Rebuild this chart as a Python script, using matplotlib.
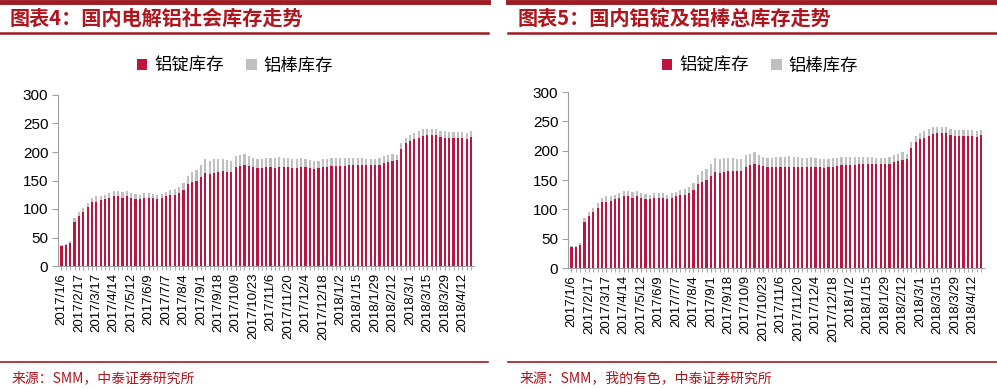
import numpy as np
import matplotlib.pyplot as plt
from matplotlib.lines import Line2D

plt.rcParams['font.family'] = ['Liberation Sans', 'Noto Sans CJK SC', 'DejaVu Sans']

# tick labels, shown on every 4th bar
tick_labels = [
    "2017/1/6", "2017/2/17", "2017/3/17", "2017/4/14", "2017/5/12", "2017/6/9",
    "2017/7/7", "2017/8/4", "2017/9/1", "2017/9/18", "2017/10/9", "2017/10/23",
    "2017/11/6", "2017/11/20", "2017/12/4", "2017/12/18", "2018/1/2", "2018/1/15",
    "2018/1/29", "2018/2/12", "2018/3/1", "2018/3/15", "2018/3/29", "2018/4/12",
]

# 铝锭库存 (万吨)
ingot = [
    35, 36, 40, 78, 88, 95, 103, 112, 113, 115, 117, 120, 122, 122, 120, 122,
    119, 117, 117, 120, 120, 120, 118, 120, 123, 124, 125, 128, 133, 143, 147, 150,
    157, 163, 162, 164, 165, 166, 165, 165, 173, 175, 177, 175, 174, 172, 172, 173,
    173, 172, 173, 173, 173, 172, 172, 173, 173, 172, 171, 172, 173, 174, 175, 176,
    176, 176, 177, 177, 178, 177, 177, 177, 177, 178, 180, 182, 184, 186, 205, 215,
    220, 222, 225, 228, 230, 230, 230, 227, 225, 225, 225, 225, 225, 223, 226,
]
# 铝锭 + 铝棒 total height
total = [
    37, 38, 43, 85, 95, 102, 110, 120, 122, 123, 125, 128, 132, 132, 130, 132,
    128, 126, 125, 128, 128, 127, 125, 127, 130, 133, 135, 138, 145, 158, 165, 168,
    178, 188, 185, 187, 188, 188, 186, 185, 193, 195, 197, 193, 190, 188, 188, 190,
    190, 190, 191, 190, 190, 188, 188, 189, 188, 186, 185, 185, 187, 188, 190, 190,
    189, 189, 190, 190, 190, 190, 188, 188, 188, 190, 193, 195, 197, 194, 215, 225,
    230, 233, 237, 240, 241, 241, 241, 237, 236, 235, 235, 235, 235, 233, 236,
]
rod = [t - i for t, i in zip(total, ingot)]

# second chart (铝锭及铝棒总库存) - visually the same series
ingot2 = list(ingot)
rod2 = list(rod)

RED = '#BE1540'
GRAY = '#C0C0C0'
LINE = '#9E1B22'
CJK = ['Noto Sans CJK SC', 'DejaVu Sans']

W, H = 997, 389
fig = plt.figure(figsize=(W / 100, H / 100), dpi=100)


def fx(px):
    return px / W


def fy(py):
    return 1 - py / H


def panel(x0, x1, ax_l, ax_r, ax_top, ax_bot, title, source, leg_x, a, b):
    # header lines
    fig.add_artist(Line2D([fx(x0), fx(x1)], [fy(2), fy(2)], color=LINE, lw=3.5))
    fig.add_artist(Line2D([fx(x0), fx(x1)], [fy(33), fy(33)], color=LINE, lw=1.8))
    fig.text(fx(x0 + 10), fy(18), title, color='#B0141C', fontsize=14.5,
             fontweight='bold', family=CJK, va='center', ha='left')
    # footer
    fig.add_artist(Line2D([fx(x0), fx(x1)], [fy(362), fy(362)], color=LINE, lw=1.2))
    fig.text(fx(x0 + 12), fy(378), source, color='#B0141C', fontsize=10,
             family=CJK, va='center', ha='left')

    ax = fig.add_axes([fx(ax_l), fy(ax_bot), fx(ax_r - ax_l), (ax_bot - ax_top) / H])
    x = np.arange(len(a))
    ax.bar(x, a, width=0.5, color=RED, label='铝锭库存')
    ax.bar(x, b, width=0.5, bottom=a, color=GRAY, label='铝棒库存')
    ax.set_ylim(0, 300)
    ax.set_xlim(-0.8, len(a) - 0.3)
    ax.set_yticks(range(0, 301, 50))
    ax.set_xticks(x, minor=True)
    ax.set_xticks(x[::4])
    ax.set_xticklabels(tick_labels, rotation=90, fontsize=9.5)
    ax.tick_params(axis='y', labelsize=11, length=4, color='#A0A0A0', pad=3)
    ax.tick_params(axis='x', which='both', length=3, color='#A0A0A0', pad=2)
    for s in ['top', 'right']:
        ax.spines[s].set_visible(False)
    for s in ['left', 'bottom']:
        ax.spines[s].set_color('#A0A0A0')
        ax.spines[s].set_linewidth(0.8)

    fig.legend(handles=ax.containers, labels=['铝锭库存', '铝棒库存'],
               loc='center', bbox_to_anchor=(fx(leg_x), fy(66)), ncol=2,
               frameon=False, prop={'family': CJK, 'size': 12.5},
               handlelength=0.6, handleheight=0.6, handletextpad=0.4,
               columnspacing=1.3)


panel(0, 488, 58, 474, 95, 266, '图表4：国内电解铝社会库存走势',
      '来源：SMM，中泰证券研究所', 235, ingot, rod)
panel(508, 997, 568, 984, 92, 268, '图表5：国内铝锭及铝棒总库存走势',
      '来源：SMM，我的有色，中泰证券研究所', 760, ingot2, rod2)

fig.savefig('out.png', dpi=100)
